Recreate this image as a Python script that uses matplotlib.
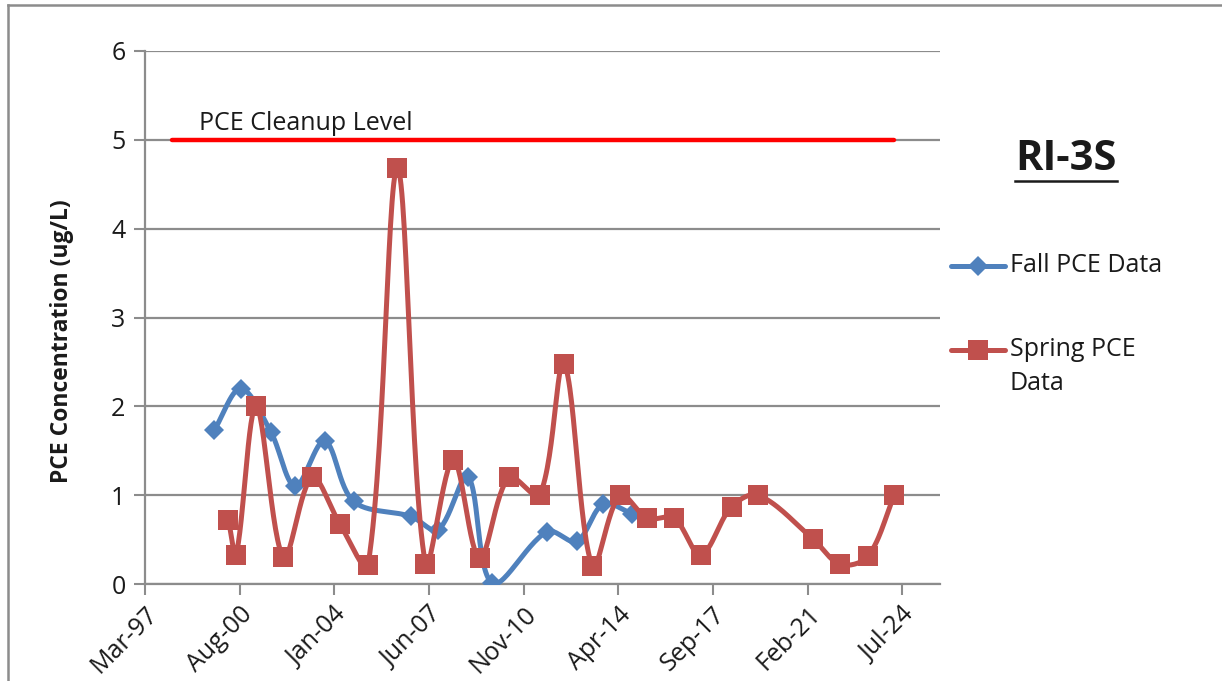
import numpy as np
import pandas as pd
import matplotlib
matplotlib.use("Agg")
import matplotlib.pyplot as plt
import matplotlib.dates as mdates
from matplotlib.lines import Line2D

plt.rcParams['font.family'] = ['Open Sans', 'DejaVu Sans']

# ---------------- data ----------------
fall_dates = ["1999-09-10", "2000-08-28", "2001-09-29", "2002-08-16", "2003-09-08",
              "2004-09-25", "2006-10-24", "2007-10-16", "2008-11-11", "2009-09-30",
              "2011-09-27", "2012-10-19", "2013-10-07", "2014-10-26"]
fall_pce = [1.73, 2.20, 1.71, 1.10, 1.61, 0.93, 0.76, 0.61, 1.21, 0.01,
            0.59, 0.48, 0.90, 0.79]

spring_dates = ["2000-03-17", "2000-06-27", "2001-03-18", "2002-03-14", "2003-03-25",
                "2004-03-24", "2005-04-03", "2006-04-26", "2007-05-02", "2008-05-02",
                "2009-04-15", "2010-05-08", "2011-06-18", "2012-05-04", "2013-05-15",
                "2014-05-15", "2015-05-12", "2016-04-28", "2017-04-16", "2018-05-27",
                "2019-05-14", "2021-05-03", "2022-05-03", "2023-04-30", "2024-04-16"]
spring_pce = [0.72, 0.33, 2.00, 0.30, 1.20, 0.68, 0.21, 4.68, 0.23, 1.40,
              0.29, 1.20, 1.00, 2.48, 0.20, 1.00, 0.74, 0.74, 0.33, 0.87,
              1.00, 0.51, 0.22, 0.31, 1.00]

cleanup_dates = ["1998-03-01", "2024-04-16"]
cleanup_level = [5, 5]

x_tick_labels = ["Mar-97", "Aug-00", "Jan-04", "Jun-07", "Nov-10",
                 "Apr-14", "Sep-17", "Feb-21", "Jul-24"]
y_ticks = [0, 1, 2, 3, 4, 5, 6]

# ---------------- helpers ----------------
BLUE = "#4F81BD"
RED = "#C0504D"
GRID = "#8C8C8C"
TXT = "#1a1a1a"
FS = 18


def smooth_pix(P, n=30, t=1.0 / 3.0):
    """Excel-like smoothed line in pixel space (length-weighted Bezier)."""
    P = np.asarray(P, float)
    m = len(P)
    if m < 3:
        return P
    cin = P.copy()
    cout = P.copy()
    for i in range(m):
        a = P[i - 1] if i > 0 else P[i]
        b = P[i + 1] if i < m - 1 else P[i]
        d = b - a
        l1 = np.hypot(*(P[i] - a))
        l2 = np.hypot(*(b - P[i]))
        s = l1 + l2
        if s == 0:
            continue
        cout[i] = P[i] + d * t * l2 / s
        cin[i] = P[i] - d * t * l1 / s
    u = np.linspace(0, 1, n)[:, None]
    out = []
    for i in range(m - 1):
        p1, c1, c2, p2 = P[i], cout[i], cin[i + 1], P[i + 1]
        seg = ((1 - u) ** 3) * p1 + 3 * ((1 - u) ** 2) * u * c1 + 3 * (1 - u) * u ** 2 * c2 + u ** 3 * p2
        out.append(seg if i == 0 else seg[1:])
    return np.vstack(out)


def smooth(ax, x, y):
    pix = ax.transData.transform(np.column_stack([x, y]))
    sp = smooth_pix(pix)
    d = ax.transData.inverted().transform(sp)
    return d[:, 0], d[:, 1]


# Excel date axis: min 35500, major unit 1250 days, max 46000
excel0 = pd.Timestamp("1899-12-30")
def excel_to_num(s):
    return mdates.date2num(excel0 + pd.Timedelta(days=s))

xmin = excel_to_num(35500)
xmax = excel_to_num(46000)
xticks = [excel_to_num(35500 + 1250 * i) for i in range(len(x_tick_labels))]

fx = mdates.date2num(pd.to_datetime(fall_dates))
sx = mdates.date2num(pd.to_datetime(spring_dates))
cx = mdates.date2num(pd.to_datetime(cleanup_dates))

# ---------------- figure ----------------
W, H = 1222, 681
fig = plt.figure(figsize=(W / 100, H / 100), dpi=100)
ax = fig.add_axes([145 / W, 1 - 584 / H, (940 - 145) / W, (584 - 51) / H])

ax.set_xlim(xmin, xmax)
ax.set_ylim(0, 6)
ax.set_yticks(y_ticks)
ax.set_xticks(xticks)
ax.set_xticklabels(x_tick_labels, rotation=45, ha="right", va="top",
                   rotation_mode="anchor")
ax.tick_params(axis="both", labelsize=FS, colors=GRID, labelcolor=TXT,
               length=8, width=1.5, direction="out")
ax.tick_params(axis="x", pad=5)
ax.tick_params(axis="y", pad=6)
ax.grid(axis="y", color=GRID, lw=1.6)
ax.set_axisbelow(True)
for s in ["top", "right"]:
    ax.spines[s].set_visible(False)
for s in ["left", "bottom"]:
    ax.spines[s].set_color(GRID)
    ax.spines[s].set_linewidth(1.6)

# cleanup level
ax.plot(cx, cleanup_level, color="#FF0000", lw=3.2, solid_capstyle="round", zorder=3)
ax.text(excel_to_num(36214), 5.04, "PCE Cleanup Level", fontsize=FS,
        color=TXT, ha="left", va="bottom")

# series
fxs, fys = smooth(ax, fx, fall_pce)
sxs, sys_ = smooth(ax, sx, spring_pce)
ax.plot(fxs, fys, color=BLUE, lw=3.6, zorder=4, solid_capstyle="round")
ax.plot(fx, fall_pce, ls="none", marker="D", ms=10, mew=0, color=BLUE, zorder=5)
ax.plot(sxs, sys_, color=RED, lw=3.6, zorder=6, solid_capstyle="round")
ax.plot(sx, spring_pce, ls="none", marker="s", ms=14, mew=0, color=RED, zorder=7)

# y label
fig.text(62 / W, 1 - 341 / H, "PCE Concentration (ug/L)", fontsize=16.5,
         fontweight="bold", color=TXT, rotation=90, ha="center", va="center")

# title
fig.text(1066 / W, 1 - 160 / H, "RI-3S", fontsize=30, fontweight="bold",
         ha="center", va="center", color=TXT)
fig.add_artist(Line2D([1015 / W, 1117 / W], [1 - 181 / H, 1 - 181 / H],
                      color=TXT, lw=1.8))

# legend (manual)
fig.add_artist(Line2D([951 / W, 1005 / W], [1 - 266 / H] * 2, color=BLUE, lw=3.6,
                      solid_capstyle="round"))
fig.add_artist(Line2D([978 / W], [1 - 266 / H], color=BLUE, marker="D", ms=10,
                      mew=0, ls="none"))
fig.text(1010 / W, 1 - 266 / H, "Fall PCE Data", fontsize=FS, color=TXT,
         ha="left", va="center")

fig.add_artist(Line2D([951 / W, 1005 / W], [1 - 350 / H] * 2, color=RED, lw=3.6,
                      solid_capstyle="round"))
fig.add_artist(Line2D([978 / W], [1 - 350 / H], color=RED, marker="s", ms=14,
                      mew=0, ls="none"))
fig.text(1010 / W, 1 - 350 / H, "Spring PCE", fontsize=FS, color=TXT,
         ha="left", va="center")
fig.text(1010 / W, 1 - 383 / H, "Data", fontsize=FS, color=TXT,
         ha="left", va="center")

# outer chart border (left and top visible)
fig.add_artist(Line2D([8 / W, 8 / W], [0, 1 - 5 / H], color=GRID, lw=1.8))
fig.add_artist(Line2D([8 / W, 1], [1 - 5 / H, 1 - 5 / H], color=GRID, lw=1.8))

fig.savefig("out.png", dpi=100)
